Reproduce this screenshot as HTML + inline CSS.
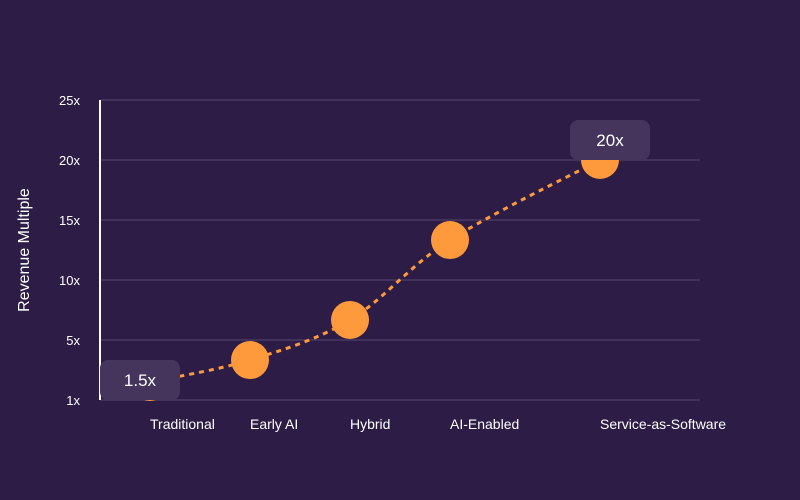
<!DOCTYPE html>
<html><head><meta charset="utf-8"><style>
html,body{margin:0;padding:0;background:#2d1c45;}
svg{display:block;font-family:"Liberation Sans",sans-serif;}
</style></head><body>
<svg id="chart" width="800" height="500" viewBox="0 0 800 500">
<rect width="800" height="500" fill="#2d1c45"/>
<g id="grid"></g>
<g id="yticks"></g>
<line x1="100" y1="100" x2="100" y2="400" stroke="#ffffff" stroke-width="2"/>
<text x="29" y="250" transform="rotate(-90 29 250)" text-anchor="middle" fill="#ffffff" font-size="16">Revenue Multiple</text>
<g id="xticks"></g>
<path id="line" fill="none" stroke="#ff9a3c" stroke-width="3" stroke-dasharray="5,5"/>
<g id="points"></g>
<g id="callouts"></g>
</svg>
<script>
const categories = ["Traditional","Early AI","Hybrid","AI-Enabled","Service-as-Software"];
const positions = [1, 2, 3, 4, 5.5];
const values = [1.5, 3.33, 6.67, 13.33, 20];
const tickValues = [0, 5, 10, 15, 20, 25];
const tickLabels = ["1x","5x","10x","15x","20x","25x"];
const calloutIndex = [0, 4];
const calloutLabels = ["1.5x","20x"];

const calloutOffsetX = [-50, -30];
const calloutOffsetY = [-22, -40];

const NS = "http://www.w3.org/2000/svg";
const y = v => 400 - v * 12;
const x = p => 50 + p * 100;
function mk(tag, attrs, parent){ const e=document.createElementNS(NS,tag); for(const k in attrs) e.setAttribute(k,attrs[k]); parent.appendChild(e); return e; }

const grid=document.getElementById('grid'), yt=document.getElementById('yticks');
tickValues.forEach((v,i)=>{
  const l=mk('line',{x1:100,x2:700,y1:y(v),y2:y(v),stroke:'#4a3a63','stroke-width':1.5},grid);
  
  
  const t=mk('text',{x:80,y:y(v)+5,'text-anchor':'end',fill:'#ffffff','font-size':13},yt);
  t.textContent=tickLabels[i];
  
  
});
const xt=document.getElementById('xticks');
categories.forEach((c,i)=>{
  const t=mk('text',{x:x(positions[i]),y:429,fill:'#ffffff','font-size':14},xt);
  t.textContent=c;
  
  
});
const pts=categories.map((c,i)=>[x(positions[i]),y(values[i])]);
let d=`M${pts[0][0]},${pts[0][1]}`;
for(let i=0;i<pts.length-1;i++){
  const p0=pts[Math.max(0,i-1)],p1=pts[i],p2=pts[i+1],p3=pts[Math.min(pts.length-1,i+2)];
  const c1=[p1[0]+(p2[0]-p0[0])/6,p1[1]+(p2[1]-p0[1])/6];
  const c2=[p2[0]-(p3[0]-p1[0])/6,p2[1]-(p3[1]-p1[1])/6];
  d+=` C${c1[0]},${c1[1]} ${c2[0]},${c2[1]} ${p2[0]},${p2[1]}`;
}
document.getElementById('line').setAttribute('d',d);
const pg=document.getElementById('points');
pts.forEach(p=>{
  const c=mk('circle',{cx:p[0],cy:p[1],r:19,fill:'#ff9a3c'},pg);
  
  
});
const cg=document.getElementById('callouts');
calloutIndex.forEach((idx,k)=>{
  const p=pts[idx];
  const g=mk('g',{},cg);
  
  
  const rx=p[0]+calloutOffsetX[k], ry=p[1]+calloutOffsetY[k];
  mk('rect',{x:rx,y:ry,width:80,height:40,rx:8,fill:'#45355c'},g);
  const t=mk('text',{x:rx+40,y:ry+26,'text-anchor':'middle',fill:'#ffffff','font-size':17},g);
  t.textContent=calloutLabels[k];
});
</script>
</body></html>
